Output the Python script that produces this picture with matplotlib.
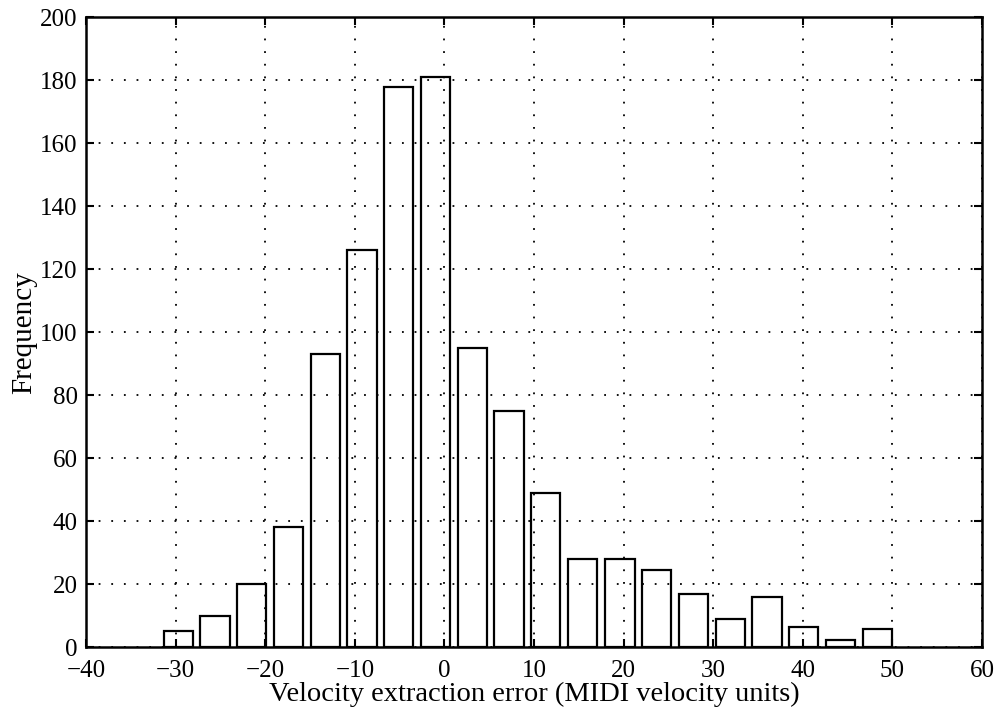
import matplotlib
matplotlib.use("Agg")
import matplotlib.pyplot as plt

bin_centers = [-29.7, -25.6, -21.5, -17.4, -13.3, -9.2, -5.1, -1.0, 3.1, 7.2,
               11.3, 15.4, 19.6, 23.7, 27.8, 31.9, 36.0, 40.1, 44.2, 48.3]
frequency = [5, 10, 20, 38, 93, 126, 178, 181, 95, 75,
             49, 28, 28, 24.5, 17, 9, 16, 6.3, 2.4, 5.6]
x_ticks = [-40, -30, -20, -10, 0, 10, 20, 30, 40, 50, 60]
y_ticks = [0, 20, 40, 60, 80, 100, 120, 140, 160, 180, 200]

plt.rcParams['font.family'] = ['Liberation Serif', 'DejaVu Serif']

fig = plt.figure(figsize=(9.97, 7.19), dpi=100)
ax = fig.add_axes([0.0863, 0.100, 0.8987, 0.876])

bin_w = bin_centers[1] - bin_centers[0]
ax.bar(bin_centers, frequency, width=0.8 * bin_w, facecolor='none',
       edgecolor='black', linewidth=1.6, zorder=3)

ax.set_xlim(-40, 60)
ax.set_ylim(0, 200)
ax.set_xticks(x_ticks)
ax.set_yticks(y_ticks)
ax.set_xticklabels([str(t).replace('-', '\u2212') for t in x_ticks])
ax.grid(True, color='black', linestyle=(0, (1, 6)), linewidth=1.3, zorder=2)
ax.tick_params(axis='both', direction='in', length=6, width=1.5, top=True, right=True,
               labelsize=18, colors='black')
ax.tick_params(axis='x', pad=9)
ax.tick_params(axis='y', pad=6)
for s in ax.spines.values():
    s.set_linewidth(1.8)
    s.set_zorder(4)

ax.set_xlabel('Velocity extraction error (MIDI velocity units)', fontsize=20.5, labelpad=0)
ax.set_ylabel('Frequency', fontsize=21, labelpad=2)

fig.savefig('out.png', dpi=100)
